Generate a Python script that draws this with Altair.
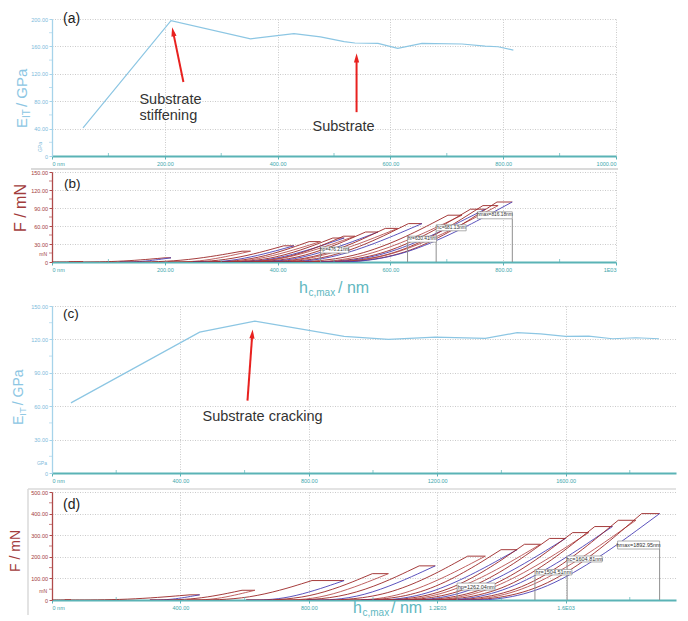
import math
import altair as alt
import pandas as pd

# ---------------- values ----------------
# (a) indentation modulus vs h_c,max, sample 1
hc_a = [55, 211, 352, 429, 476, 518, 537, 578, 613, 656, 727, 768, 791, 818]
eit_a = [41, 197.5, 171, 178.5, 174, 167, 165, 164.5, 157, 164.5, 163.5, 160.5, 159.5, 154.5]

# (c) indentation modulus vs h_c,max, sample 2
hc_c = [59, 460, 632, 910, 1048, 1194, 1350, 1449, 1522, 1600, 1672, 1746, 1819, 1891]
eit_c = [63, 126.5, 136.4, 122.7, 120, 122, 121, 126, 125, 122.7, 123, 120.6, 121.5, 120.6]

# (b) load cycles: max depth, max load, residual depth, hold (creep) length
hmax_b = [55, 211, 352, 429, 476, 518, 537, 578, 613, 656, 727, 768, 791, 816]
fmax_b = [0.5, 7, 18, 27, 34, 40, 43, 50, 56, 64, 78, 88, 94, 100]
hp_b = [30, 120, 205, 250, 277, 302, 313, 337, 357, 382, 424, 448, 461, 476]
hold_b = [3, 10, 15, 18, 20, 20, 20, 22, 22, 24, 25, 26, 27, 27]

# (d) load cycles
hmax_d = [59, 460, 632, 910, 1048, 1194, 1350, 1449, 1522, 1600, 1672, 1746, 1819, 1893]
fmax_d = [0.4, 24, 45, 90, 122, 158, 203, 233, 258, 285, 312, 340, 369, 400]
hp_d = [40, 305, 420, 605, 697, 794, 898, 964, 1012, 1064, 1112, 1161, 1210, 1262]
hold_d = [4, 30, 40, 100, 50, 50, 55, 50, 50, 50, 50, 55, 55, 56]

# characteristic depths of the last cycle
depth_names = ["hmax", "hc", "hr", "hp"]
depth_b = [816.18, 681.13, 630.41, 476.21]
depth_d = [1892.95, 1604.81, 1504.51, 1262.04]

# axis ticks
xt_ab = [0, 200, 400, 600, 800, 1000]
xm_ab = [100, 300, 500, 700, 900]
xt_cd = [0, 400, 800, 1200, 1600]
xm_cd = [200, 600, 1000, 1400, 1800]
yt_a = [0, 40, 80, 120, 160, 200]
ym_a = [20, 60, 100, 140, 180]
yt_bc = [0, 30, 60, 90, 120, 150]
ym_bc = [15, 45, 75, 105, 135]
yt_d = [0, 100, 200, 300, 400, 500]
ym_d = [50, 150, 250, 350, 450]

# ---------------- styling ----------------
FONT = "Liberation Sans"
TEAL = "#5ab3b6"
TEAL_TXT = "#3ea6ab"
TITLE_TEAL = "#62b8bf"
BLUE_LINE = "#8cc6e3"
BLUE_AX = "#a6d3ea"
BLUE_TXT = "#7cbadb"
RED_AX = "#b04a4a"
RED_TXT = "#a23c3c"
GRID = "#c4c4c4"
ARROW = "#e8211f"
NOTE = "#333333"

W1, W2 = 564, 624
HA, HB, HC, HD = 137, 90, 167, 108
LEFT = 44
XD_AB = [0, 1000]
XD_CD = [0, 1944]


def xaxis(vals, expr):
    return alt.Axis(values=vals, labelExpr=expr, title=None, grid=True,
                    gridColor=GRID, gridDash=[1, 1.5], gridWidth=0.9,
                    domainColor=TEAL, domainWidth=1.8, tickColor=TEAL, tickSize=3,
                    labelColor=TEAL_TXT, labelFont=FONT, labelFontSize=5.5,
                    labelPadding=2, labelOverlap=False)


def yaxis(vals, axc, lblc):
    return alt.Axis(values=vals,
                    labelExpr="datum.value == 0 ? '0' : format(datum.value, '.2f')",
                    title=None, grid=True, gridColor=GRID, gridDash=[1, 1.5], gridWidth=0.9,
                    domainColor=axc, domainWidth=1.3, tickColor=axc, tickSize=3,
                    labelColor=lblc, labelFont=FONT, labelFontSize=5.5, labelPadding=1.5,
                    labelOverlap=False)


class P:
    """Scales and axes shared by all layers of one panel."""
    def __init__(self, xdom, ydom, xax, yax):
        self.xs = alt.Scale(domain=xdom, nice=False)
        self.ys = alt.Scale(domain=ydom, nice=False)
        self.xax = xax
        self.yax = yax

    def X(self, f):
        return alt.X(f, scale=self.xs, axis=self.xax, title=None)

    def Y(self, f):
        return alt.Y(f, scale=self.ys, axis=self.yax, title=None)


def one():
    return pd.DataFrame({"k": [0]})


def bounds(w, h, top, bottom):
    r1 = alt.Chart(one()).mark_rule(stroke="white", strokeOpacity=0).encode(
        x=alt.value(-LEFT), x2=alt.value(w), y=alt.value(-top))
    r2 = alt.Chart(one()).mark_rule(stroke="white", strokeOpacity=0).encode(
        x=alt.value(-LEFT), y=alt.value(-top), y2=alt.value(h + bottom))
    return [r1, r2]


def texts(items, color):
    out = []
    for it in items:
        out.append(alt.Chart(pd.DataFrame({"t": [it["t"]]})).mark_text(
            align=it.get("align", "left"), baseline=it.get("baseline", "alphabetic"),
            font=FONT, fontSize=it["size"], color=color, angle=it.get("angle", 0)
        ).encode(x=alt.value(it["x"]), y=alt.value(it["y"]), text="t:N"))
    return out


def minor(p, h, xminor, yminor, xcol, ycol):
    a = alt.Chart(pd.DataFrame({"h": xminor})).mark_tick(
        orient="vertical", size=3, thickness=1, color=xcol).encode(
        x=p.X("h:Q"), y=alt.value(h - 1.5))
    b = alt.Chart(pd.DataFrame({"v": yminor})).mark_tick(
        orient="horizontal", size=3, thickness=1, color=ycol).encode(
        y=p.Y("v:Q"), x=alt.value(-1.5))
    return [a, b]


def unit(p, label, value, rotate=False):
    df = pd.DataFrame({"t": [label], "v": [value]})
    if rotate:
        m = alt.Chart(df).mark_text(font=FONT, fontSize=5, color=BLUE_TXT, angle=270,
                                    align="center", baseline="middle")
        return m.encode(x=alt.value(-12), y=p.Y("v:Q"), text="t:N")
    col = BLUE_TXT if label == "GPa" else RED_TXT
    m = alt.Chart(df).mark_text(font=FONT, fontSize=5, color=col, align="right", baseline="middle")
    return m.encode(x=alt.value(-5), y=p.Y("v:Q"), text="t:N")


def arrows(p, arrs, sx, sy):
    rows = []
    for (x1, y1, x2, y2) in arrs:
        dxs = (x2 - x1) * sx
        dys = -(y2 - y1) * sy
        L = math.hypot(dxs, dys)
        ang = math.degrees(math.atan2(dxs, -dys)) % 360
        back = 5.0
        ex = x2 - dxs / L * back / sx
        ey = y2 + dys / L * back / sy
        rows.append({"x1": x1, "y1": y1, "x2": ex, "y2": ey, "tx": x2, "ty": y2, "ang": ang})
    df = pd.DataFrame(rows)
    shaft = alt.Chart(df).mark_rule(color=ARROW, strokeWidth=2).encode(
        x=p.X("x1:Q"), y=p.Y("y1:Q"), x2="x2:Q", y2="y2:Q")
    head = alt.Chart(df).mark_point(shape="M0,0L0.65,2.3L-0.65,2.3Z", filled=True,
                                    color=ARROW, opacity=1, size=64, strokeWidth=0).encode(
        x=p.X("tx:Q"), y=p.Y("ty:Q"), angle=alt.Angle("ang:Q", scale=None))
    return [shaft, head]


def notes(p, items):
    df = pd.DataFrame(items, columns=["t", "x", "y"])
    return alt.Chart(df).mark_text(align="left", baseline="alphabetic", font=FONT,
                                   fontSize=14.5, color=NOTE).encode(
        x=p.X("x:Q"), y=p.Y("y:Q"), text="t:N")


def loops(hmax, fmax, hp, hold):
    rows = []
    start = 0.0
    for i, (hm, f, pr, c) in enumerate(zip(hmax, fmax, hp, hold)):
        h1 = hm - c
        unl = "unload_b" if i % 2 == 1 else "unload_r"
        segs = [
            ("load", [(start, 0.0), (start + 0.5 * (h1 - start), 0.0), (h1, f)]),
            ("load", [(h1, f), (hm, f)]),
            (unl, [(hm, f), (pr + 0.42 * (hm - pr), 0.0), (pr, 0.0)]),
        ]
        for j, (kind, pts) in enumerate(segs):
            for k, (hh, ff) in enumerate(pts):
                rows.append({"seg": f"{i}-{j}", "kind": kind, "o": k, "h": hh, "F": ff})
        start = pr
    return pd.DataFrame(rows)


def depth_marks(p, vals, sx, sy, boxes, fsize):
    rows = []
    for v, n, (side, wp, hpx, fb) in zip(vals, depth_names, boxes):
        wd = wp / sx
        x1, x2 = (v - wd, v) if side == "r" else (v, v + wd)
        f2 = fb + hpx / sy
        rows.append({"h": v, "z": 0.0, "x1": x1, "x2": x2, "f1": fb, "f2": f2,
                     "xm": (x1 + x2) / 2, "fm": (fb + f2) / 2, "t": f"{n}={v:.2f}nm"})
    df = pd.DataFrame(rows)
    ln = alt.Chart(df).mark_rule(color="#8f8f8f", strokeWidth=1).encode(
        x=p.X("h:Q"), y=p.Y("z:Q"), y2="f1:Q")
    bx = alt.Chart(df).mark_rect(fill="white", stroke="#8c8c8c", strokeWidth=0.7).encode(
        x=p.X("x1:Q"), x2="x2:Q", y=p.Y("f1:Q"), y2="f2:Q")
    tx = alt.Chart(df).mark_text(font=FONT, fontSize=fsize, color="#333333",
                                 baseline="middle").encode(
        x=p.X("xm:Q"), y=p.Y("fm:Q"), text="t:N")
    return [ln, bx, tx]


def load_lines(p, df):
    return alt.Chart(df).mark_line(interpolate="basis", strokeWidth=0.9, clip=True).encode(
        x=p.X("h:Q"), y=p.Y("F:Q"),
        detail="seg:N", order="o:Q",
        color=alt.Color("kind:N", legend=None, scale=alt.Scale(
            domain=["load", "unload_r", "unload_b"],
            range=["#9b2626", "#b85050", "#4a3fb5"])))


EXPR_0 = "datum.value == 0 ? '0 nm' : format(datum.value, '.2f')"

# ---------------- panel (a) ----------------
pa = P(XD_AB, [0, 200], xaxis(xt_ab, EXPR_0), yaxis(yt_a, BLUE_AX, BLUE_TXT))
line_a = alt.Chart(pd.DataFrame({"h": hc_a, "E": eit_a})).mark_line(
    color=BLUE_LINE, strokeWidth=1.2).encode(x=pa.X("h:Q"), y=pa.Y("E:Q"))
p_a = alt.layer(
    *bounds(W1, HA, 11, 12),
    line_a,
    *minor(pa, HA, xm_ab, ym_a, TEAL, BLUE_AX),
    unit(pa, "GPa", 13, rotate=True),
    *arrows(pa, [(233, 108, 213, 188), (540, 64, 540, 150)], W1 / 1000, HA / 200),
    notes(pa, [("Substrate", 155, 76), ("stiffening", 155, 52.6), ("Substrate", 462, 36.5)]),
    *texts([{"t": "(a)", "x": 11, "y": 4, "size": 14}], "#222222"),
    *texts([{"t": "E", "x": -25, "y": 109, "size": 15, "angle": 270},
            {"t": "IT", "x": -22, "y": 99, "size": 10, "angle": 270},
            {"t": "/ GPa", "x": -25, "y": 88, "size": 15, "angle": 270}], BLUE_LINE),
).properties(width=W1, height=HA)

# ---------------- panel (b) ----------------
pb = P(XD_AB, [0, 150],
       xaxis(xt_ab, "datum.value == 0 ? '0 nm' : datum.value >= 1000 ? '1E03' : format(datum.value, '.2f')"),
       yaxis(yt_bc, RED_AX, RED_TXT))
frame_b = alt.Chart(one()).mark_rule(color="#dadada", strokeWidth=2).encode(
    x=alt.value(-21), x2=alt.value(W1 + 2), y=alt.value(-3))
p_b = alt.layer(
    *bounds(W1, HB, 4, 38),
    frame_b,
    load_lines(pb, loops(hmax_b, fmax_b, hp_b, hold_b)),
    *minor(pb, HB, xm_ab, ym_bc, TEAL, RED_AX),
    unit(pb, "mN", 13),
    *depth_marks(pb, depth_b, W1 / 1000, HB / 150,
                 [("r", 35, 7, 72), ("l", 30, 6, 52), ("l", 29, 6, 33), ("l", 28, 6, 15)], 4.8),
    *texts([{"t": "(b)", "x": 12, "y": 16, "size": 13.5}], "#222222"),
    *texts([{"t": "F / mN", "x": -26, "y": 36, "size": 16, "angle": 270, "align": "center"}], RED_TXT),
    *texts([{"t": "h", "x": 247, "y": 121, "size": 16},
            {"t": "c,max", "x": 256.5, "y": 124, "size": 10},
            {"t": "/ nm", "x": 286, "y": 121, "size": 16}], TITLE_TEAL),
).properties(width=W1, height=HB)

# ---------------- panel (c) ----------------
pc = P(XD_CD, [0, 150], xaxis(xt_cd, EXPR_0), yaxis(yt_bc, BLUE_AX, BLUE_TXT))
line_c = alt.Chart(pd.DataFrame({"h": hc_c, "E": eit_c})).mark_line(
    color=BLUE_LINE, strokeWidth=1.2).encode(x=pc.X("h:Q"), y=pc.Y("E:Q"))
p_c = alt.layer(
    *bounds(W2, HC, 6, 15),
    line_c,
    *minor(pc, HC, xm_cd, ym_bc, TEAL, BLUE_AX),
    unit(pc, "GPa", 9),
    *arrows(pc, [(609, 65, 625, 129)], W2 / XD_CD[1], HC / 150),
    notes(pc, [("Substrate cracking", 469, 46.6)]),
    *texts([{"t": "(c)", "x": 11, "y": 12, "size": 13.5}], "#222222"),
    *texts([{"t": "E", "x": -29, "y": 119, "size": 14, "angle": 270},
            {"t": "IT", "x": -26.2, "y": 109.7, "size": 9.5, "angle": 270},
            {"t": "/ GPa", "x": -29, "y": 99.2, "size": 14, "angle": 270}], BLUE_LINE),
).properties(width=W2, height=HC)

# ---------------- panel (d) ----------------
pdd = P(XD_CD, [0, 500],
        xaxis(xt_cd, "datum.value == 0 ? '0 nm' : datum.value >= 1000 ? format(datum.value / 1000, '.1f') + 'E03' : format(datum.value, '.2f')"),
        yaxis(yt_d, RED_AX, RED_TXT))
frame_d1 = alt.Chart(one()).mark_rule(color="#dadada", strokeWidth=1.5).encode(
    x=alt.value(-24), x2=alt.value(W2), y=alt.value(-3))
frame_d2 = alt.Chart(one()).mark_rule(color="#dadada", strokeWidth=1.5).encode(
    x=alt.value(-24), y=alt.value(-3), y2=alt.value(HD + 15))
p_d = alt.layer(
    *bounds(W2, HD, 4, 10),
    frame_d1, frame_d2,
    load_lines(pdd, loops(hmax_d, fmax_d, hp_d, hold_d)),
    *minor(pdd, HD, xm_cd, ym_d, TEAL, RED_AX),
    unit(pdd, "mN", 42),
    *depth_marks(pdd, depth_d, W2 / XD_CD[1], HD / 500,
                 [("r", 42, 8, 236), ("l", 35, 6, 176), ("l", 37, 5.5, 116), ("l", 38, 7, 46)], 5.5),
    *texts([{"t": "(d)", "x": 11, "y": 17, "size": 14}], "#222222"),
    *texts([{"t": "F / mN", "x": -32, "y": 59, "size": 14, "angle": 270, "align": "center"}], RED_TXT),
    *texts([{"t": "h", "x": 301, "y": 121, "size": 16},
            {"t": "c,max", "x": 310.5, "y": 124, "size": 10},
            {"t": "/ nm", "x": 339, "y": 121, "size": 16}], TITLE_TEAL),
).properties(width=W2, height=HD)

chart = alt.vconcat(p_a, p_b, p_c, p_d, spacing=0).properties(
    padding=0, background="white").configure_view(stroke=None)

chart.save("out.html", embed_options={"renderer": "svg", "actions": False})
